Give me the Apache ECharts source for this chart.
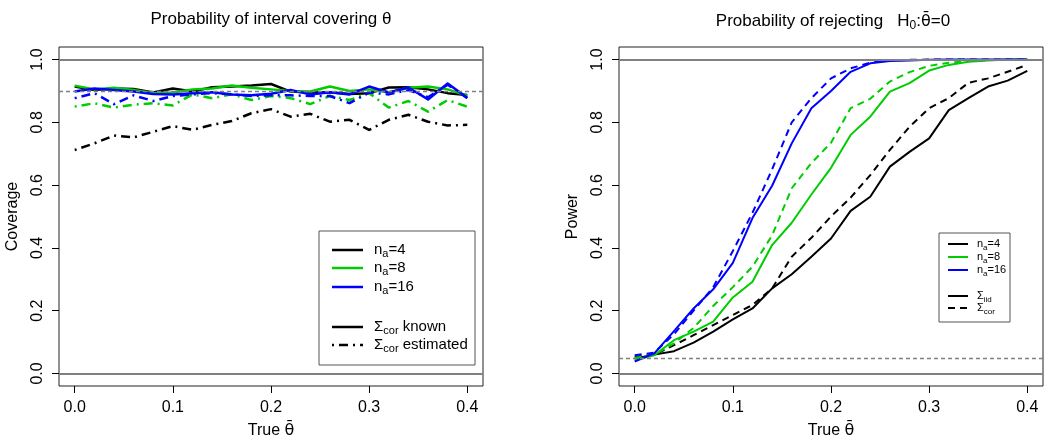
<!DOCTYPE html>
<html><head><meta charset="utf-8">
<script src="https://cdn.jsdelivr.net/npm/echarts@6/dist/echarts.min.js"></script>
<style>html,body{margin:0;padding:0;background:#fff}#c{width:1050px;height:441px}</style>
</head><body><div id="c"></div><script>
// ---------- data ----------
const theta = [0,0.02,0.04,0.06,0.08,0.10,0.12,0.14,0.16,0.18,0.20,0.22,0.24,0.26,0.28,0.30,0.32,0.34,0.36,0.38,0.40];
const xTicks = [0,0.1,0.2,0.3,0.4];
const yTicks = [0,0.2,0.4,0.6,0.8,1.0];

// Coverage (left panel)
const covN4Known  = [0.914,0.903,0.908,0.906,0.895,0.908,0.898,0.912,0.914,0.917,0.922,0.898,0.895,0.896,0.890,0.893,0.911,0.912,0.905,0.893,0.887];
const covN8Known  = [0.917,0.905,0.910,0.903,0.893,0.895,0.905,0.908,0.917,0.910,0.905,0.900,0.898,0.914,0.900,0.905,0.895,0.910,0.914,0.905,0.885];
const covN16Known = [0.898,0.908,0.903,0.898,0.890,0.889,0.893,0.896,0.889,0.886,0.891,0.903,0.889,0.896,0.889,0.914,0.895,0.911,0.873,0.924,0.878];
const covN4Est    = [0.712,0.733,0.758,0.752,0.770,0.788,0.776,0.792,0.804,0.829,0.842,0.818,0.827,0.802,0.808,0.776,0.808,0.824,0.802,0.790,0.792];
const covN8Est    = [0.850,0.861,0.847,0.856,0.861,0.854,0.889,0.877,0.889,0.871,0.884,0.877,0.858,0.884,0.871,0.893,0.847,0.868,0.834,0.871,0.850];
const covN16Est   = [0.877,0.893,0.858,0.886,0.868,0.884,0.889,0.893,0.889,0.884,0.886,0.886,0.884,0.884,0.861,0.895,0.889,0.903,0.880,0.920,0.877];
const covTarget = 0.9;

// Power (right panel)
const powN4Iid  = [0.048,0.060,0.071,0.098,0.133,0.172,0.207,0.271,0.316,0.372,0.430,0.518,0.563,0.659,0.706,0.749,0.839,0.877,0.914,0.933,0.964];
const powN4Cor  = [0.053,0.060,0.090,0.122,0.154,0.186,0.218,0.271,0.372,0.432,0.500,0.560,0.632,0.712,0.786,0.845,0.877,0.926,0.940,0.961,0.983];
const powN8Iid  = [0.043,0.058,0.106,0.133,0.165,0.242,0.292,0.409,0.480,0.570,0.655,0.760,0.818,0.898,0.925,0.965,0.983,0.993,0.997,1.000,1.000];
const powN8Cor  = [0.050,0.060,0.096,0.145,0.215,0.275,0.340,0.440,0.590,0.670,0.735,0.845,0.875,0.930,0.960,0.980,0.990,0.995,0.998,1.000,1.000];
const powN16Iid = [0.038,0.064,0.135,0.207,0.268,0.352,0.495,0.598,0.733,0.845,0.900,0.961,0.988,0.995,0.997,0.999,1.000,1.000,1.000,1.000,1.000];
const powN16Cor = [0.058,0.066,0.125,0.200,0.275,0.390,0.512,0.650,0.800,0.877,0.940,0.972,0.990,0.997,0.999,1.000,1.000,1.000,1.000,1.000,1.000];
const alphaLevel = 0.05;

// ---------- style ----------
const FONT = '"Liberation Sans", Arial, Helvetica, sans-serif';
const SYM = '"DejaVu Sans", sans-serif';
const BLACK = '#000000', GREEN = '#00CD00', BLUE = '#0000FF', GRAY = '#808080';
const DOTDASH = [2,5,9,5];
const DASH = [7,5];

const pairs = ys => theta.map((x,i) => [x, ys[i]]);

function xAxisDef(g){
  return {type:'value', gridIndex:g, min:-0.016, max:0.416,
    axisLine:{show:false, onZero:false}, splitLine:{show:false},
    axisTick:{show:true, customValues:xTicks, length:7, lineStyle:{color:BLACK,width:1}},
    axisLabel:{customValues:xTicks, formatter:v=>v.toFixed(1), fontSize:16, color:BLACK, margin:14, fontFamily:FONT},
    name:'True {t|θ̄}', nameLocation:'middle', nameGap:37,
    nameTextStyle:{fontSize:16, color:BLACK, fontFamily:FONT,
      rich:{t:{fontSize:16, fontFamily:SYM, color:BLACK}}}};
}
function yAxisDef(g, name){
  return {type:'value', gridIndex:g, min:-0.04, max:1.04,
    axisLine:{show:false, onZero:false}, splitLine:{show:false},
    axisTick:{show:true, customValues:yTicks, length:7, lineStyle:{color:BLACK,width:1}},
    axisLabel:{customValues:yTicks, formatter:v=>v.toFixed(1), fontSize:16, color:BLACK, margin:13, rotate:90, fontFamily:FONT},
    name:name, nameLocation:'middle', nameGap:38, nameRotate:90,
    nameTextStyle:{fontSize:16, color:BLACK, fontFamily:FONT}};
}
function line(name, g, ys, color, width, type, extra){
  return Object.assign({type:'line', name, xAxisIndex:g, yAxisIndex:g, data:pairs(ys),
    showSymbol:false, symbol:'none', silent:true,
    lineStyle:{color, width, type, cap:'butt', join:'round'}}, extra||{});
}
function refLines(dashVal){
  const solid = {color:GRAY, width:2, type:'solid'};
  return {markLine:{silent:true, symbol:'none', label:{show:false}, animation:false,
    data:[{yAxis:1, lineStyle:solid},{yAxis:0, lineStyle:solid},
          {yAxis:dashVal, lineStyle:{color:GRAY, width:1.3, type:[4,3]}}]}};
}

// ---------- legends (graphic) ----------
function legendBox(x,y,w,h,rows,lx1,lx2,tx,fs,lw){
  const els = [{type:'rect', shape:{x,y,width:w,height:h}, style:{fill:'#fff', stroke:'#555', lineWidth:1}}];
  rows.forEach(r=>{
    els.push({type:'line', shape:{x1:lx1,y1:r.y,x2:lx2,y2:r.y}, style:{stroke:r.color, lineWidth:lw, lineDash:r.dash||null}});
    els.push({type:'text', x:tx, y:r.y, style:{text:r.text, fill:BLACK, fontSize:fs, fontFamily:FONT, verticalAlign:'middle',
      rich:{m:{fontSize:fs, fontFamily:FONT, lineHeight:fs+4}, s:{fontSize:Math.round(fs*0.7), fontFamily:FONT, lineHeight:Math.round(fs*0.7), verticalAlign:'bottom'}}}});
  });
  return els;
}
const leftLegend = legendBox(319,231,156,134,[
  {y:250, color:BLACK, text:'{m|n}{s|a}{m|=4}'},
  {y:268, color:GREEN, text:'{m|n}{s|a}{m|=8}'},
  {y:287, color:BLUE,  text:'{m|n}{s|a}{m|=16}'},
  {y:327, color:BLACK, text:'{m|Σ}{s|cor}{m| known}'},
  {y:345, color:BLACK, text:'{m|Σ}{s|cor}{m| estimated}', dash:DOTDASH}
],332,363,374,15,2.5);
const rightLegend = legendBox(939,233,71,89,[
  {y:244, color:BLACK, text:'{m|n}{s|a}{m|=4}'},
  {y:257, color:GREEN, text:'{m|n}{s|a}{m|=8}'},
  {y:270, color:BLUE,  text:'{m|n}{s|a}{m|=16}'},
  {y:296, color:BLACK, text:'{m|Σ}{s|iid}'},
  {y:308, color:BLACK, text:'{m|Σ}{s|cor}', dash:DASH}
],948,968,977,11,2);

const option = {
  animation:false,
  backgroundColor:'#fff',
  textStyle:{fontFamily:FONT},
  title:[
    {text:'Probability of interval covering θ', left:266, top:6, textAlign:'center',
      textStyle:{fontSize:17, fontWeight:'normal', color:BLACK, fontFamily:FONT}},
    {text:'Probability of rejecting   {m|H}{s|0}{m|:}{t|θ̄}{m|=0}', left:828, top:6, textAlign:'center',
      textStyle:{fontSize:17, fontWeight:'normal', color:BLACK, fontFamily:FONT,
        rich:{m:{fontSize:17, fontFamily:FONT, lineHeight:21}, t:{fontSize:16, fontFamily:SYM, lineHeight:21},
              s:{fontSize:12, fontFamily:FONT, lineHeight:12, verticalAlign:'bottom'}}}}
  ],
  grid:[
    {left:59, top:47, width:424, height:339, show:true, borderColor:'#222', borderWidth:1, backgroundColor:'transparent', outerBoundsMode:'none', containLabel:false},
    {left:619, top:47, width:424, height:339, show:true, borderColor:'#222', borderWidth:1, backgroundColor:'transparent', outerBoundsMode:'none', containLabel:false}
  ],
  xAxis:[xAxisDef(0), xAxisDef(1)],
  yAxis:[yAxisDef(0,'Coverage'), yAxisDef(1,'Power')],
  series:[
    line('n_a=4 Σcor known',0,covN4Known,BLACK,2.5,'solid', refLines(covTarget)),
    line('n_a=4 Σcor estimated',0,covN4Est,BLACK,2.5,DOTDASH),
    line('n_a=8 Σcor estimated',0,covN8Est,GREEN,2.5,DOTDASH),
    line('n_a=16 Σcor estimated',0,covN16Est,BLUE,2.5,DOTDASH),
    line('n_a=8 Σcor known',0,covN8Known,GREEN,2.5,'solid'),
    line('n_a=16 Σcor known',0,covN16Known,BLUE,2.5,'solid'),

    line('n_a=4 Σiid',1,powN4Iid,BLACK,2,'solid', refLines(alphaLevel)),
    line('n_a=4 Σcor',1,powN4Cor,BLACK,2,DASH),
    line('n_a=8 Σiid',1,powN8Iid,GREEN,2,'solid'),
    line('n_a=8 Σcor',1,powN8Cor,GREEN,2,DASH),
    line('n_a=16 Σiid',1,powN16Iid,BLUE,2,'solid'),
    line('n_a=16 Σcor',1,powN16Cor,BLUE,2,DASH)
  ],
  graphic:[...leftLegend, ...rightLegend]
};
const chart = echarts.init(document.getElementById('c'));
chart.setOption(option);
</script></body></html>
